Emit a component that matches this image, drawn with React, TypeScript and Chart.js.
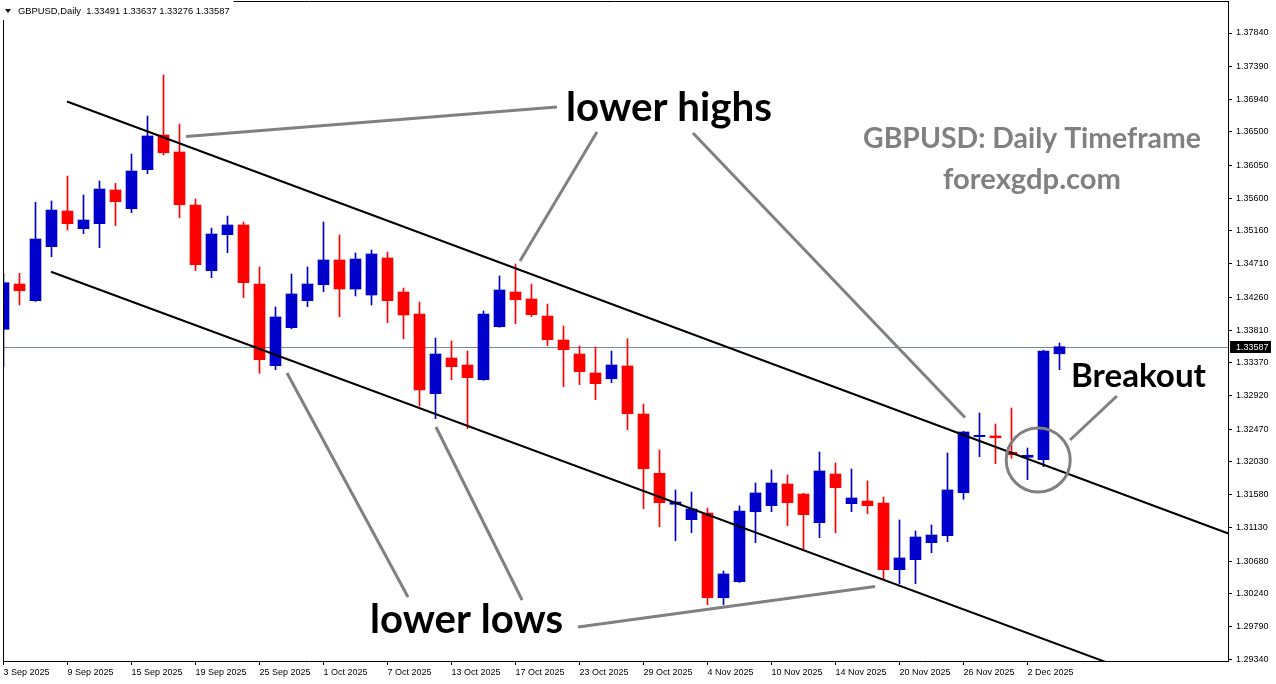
import { useEffect, useRef } from "react";
import { Chart, registerables } from "chart.js";

Chart.register(...registerables);

// ---------- data ----------
const symbol = "GBPUSD";
const timeframe = "Daily";

const sepDays = [3, 4, 5, 8, 9, 10, 11, 12, 15, 16, 17, 18, 19, 22, 23, 24, 25, 26, 29, 30];
const octDays = [1, 2, 3, 6, 7, 8, 9, 10, 13, 14, 15, 16, 17, 20, 21, 22, 23, 24, 27, 28, 29, 30, 31];
const novDays = [3, 4, 5, 6, 7, 10, 11, 12, 13, 14, 17, 18, 19, 20, 21, 24, 25, 26, 27, 28];
const decDays = [1, 2, 3, 4];

const dates: string[] = [
  ...sepDays.map((d) => `${d} Sep 2025`),
  ...octDays.map((d) => `${d} Oct 2025`),
  ...novDays.map((d) => `${d} Nov 2025`),
  ...decDays.map((d) => `${d} Dec 2025`),
];

const opens = [
  1.33823, 1.34437, 1.34211, 1.34943, 1.35427, 1.35187, 1.35255, 1.35712, 1.35458, 1.35987,
  1.36457, 1.36227, 1.35508, 1.34618, 1.35106, 1.35237, 1.34437, 1.33330, 1.33845, 1.34211,
  1.34428, 1.34763, 1.34369, 1.34288, 1.34790, 1.34329, 1.34031, 1.32950, 1.33434, 1.33339,
  1.33140, 1.33858, 1.34329, 1.34234, 1.34003, 1.33678, 1.33488, 1.33231, 1.33153, 1.33326,
  1.32675, 1.31871, 1.31451, 1.31242, 1.31333, 1.30184, 1.30401, 1.31350, 1.31432, 1.31726,
  1.31590, 1.31201, 1.31861, 1.31459, 1.31495, 1.31468, 1.30564, 1.30700, 1.30930, 1.31025,
  1.31608, 1.32367, 1.32377, 1.32156, 1.32088, 1.32055, 1.33491,
];
const highs = [
  1.34582, 1.34582, 1.35545, 1.35562, 1.35901, 1.35644, 1.35834, 1.35802, 1.36200, 1.36715,
  1.37271, 1.36606, 1.35590, 1.35196, 1.35359, 1.35278, 1.34668, 1.34125, 1.34573, 1.34668,
  1.35278, 1.35102, 1.34858, 1.34898, 1.34871, 1.34383, 1.34193, 1.33705, 1.33665, 1.33529,
  1.34071, 1.34546, 1.34708, 1.34437, 1.34166, 1.33868, 1.33597, 1.33583, 1.33529, 1.33696,
  1.32810, 1.32187, 1.31645, 1.31617, 1.31400, 1.30546, 1.31428, 1.31739, 1.31916, 1.31848,
  1.31600, 1.32160, 1.32011, 1.31929, 1.31767, 1.31550, 1.31238, 1.31089, 1.31170, 1.32146,
  1.32440, 1.32688, 1.32539, 1.32756, 1.32214, 1.33540, 1.33637,
];
const lows = [
  1.33316, 1.34153, 1.34200, 1.34807, 1.35169, 1.35119, 1.34929, 1.35228, 1.35404, 1.35933,
  1.36186, 1.35336, 1.34618, 1.34523, 1.34862, 1.34252, 1.33227, 1.33275, 1.33830, 1.34130,
  1.34333, 1.33994, 1.34275, 1.34153, 1.33913, 1.33696, 1.32783, 1.32611, 1.33140, 1.32476,
  1.33130, 1.33850, 1.33899, 1.33994, 1.33601, 1.33045, 1.33072, 1.32869, 1.33099, 1.32462,
  1.31391, 1.31147, 1.30957, 1.31066, 1.30090, 1.30090, 1.30390, 1.30930, 1.31350, 1.31160,
  1.30835, 1.30998, 1.31066, 1.31350, 1.31323, 1.30428, 1.30374, 1.30374, 1.30794, 1.30944,
  1.31518, 1.32096, 1.32001, 1.32074, 1.31784, 1.31960, 1.33276,
];
const closes = [
  1.34455, 1.34346, 1.35047, 1.35440, 1.35255, 1.35305, 1.35725, 1.35553, 1.35969, 1.36444,
  1.36217, 1.35512, 1.34699, 1.35115, 1.35237, 1.34455, 1.33411, 1.33990, 1.34302, 1.34437,
  1.34763, 1.34369, 1.34776, 1.34844, 1.34211, 1.34017, 1.33000, 1.33488, 1.33316, 1.33167,
  1.34031, 1.34356, 1.34224, 1.34021, 1.33682, 1.33547, 1.33248, 1.33086, 1.33339, 1.32679,
  1.31933, 1.31472, 1.31482, 1.31387, 1.30184, 1.30506, 1.31360, 1.31604, 1.31739, 1.31472,
  1.31310, 1.31902, 1.31676, 1.31536, 1.31432, 1.30564, 1.30723, 1.31007, 1.31034, 1.31645,
  1.32431, 1.32386, 1.32353, 1.32123, 1.32115, 1.33529, 1.33587,
];

const xTickLabelEvery = 4;
const yTicks = [
  1.3784, 1.3739, 1.3694, 1.365, 1.3605, 1.356, 1.3516, 1.3471, 1.3426, 1.3381,
  1.3337, 1.3292, 1.3247, 1.3203, 1.3158, 1.3113, 1.3068, 1.3024, 1.2979, 1.2934,
];
const yMin = 1.29326;
const yMax = 1.38274;
const xMin = -0.03125;
const xMax = 76.53125;

// channel lines (bar index, price)
const upperChannel = [
  { x: 3.97, y: 1.36911 },
  { x: 76.6, y: 1.31051 },
];
const lowerChannel = [
  { x: 2.97, y: 1.34604 },
  { x: 70.4, y: 1.29191 },
];

// grey pointer lines (bar index, price)
const pointerLines = [
  [{ x: 11.41, y: 1.36437 }, { x: 34.59, y: 1.36837 }],
  [{ x: 32.28, y: 1.34749 }, { x: 37.09, y: 1.36498 }],
  [{ x: 43.09, y: 1.36484 }, { x: 60.09, y: 1.32627 }],
  [{ x: 17.72, y: 1.33231 }, { x: 25.28, y: 1.30194 }],
  [{ x: 27.03, y: 1.32499 }, { x: 32.41, y: 1.30153 }],
  [{ x: 35.91, y: 1.29787 }, { x: 54.47, y: 1.30336 }],
  [{ x: 66.66, y: 1.32322 }, { x: 69.59, y: 1.32919 }],
];
const breakoutCircle = { x: 64.67, y: 1.32051 };

const annotationTexts = [
  { text: "lower highs", x: 35.16, y: 1.36647, kind: "callout" },
  { text: "lower lows", x: 22.91, y: 1.2971, kind: "callout" },
  { text: "Breakout", x: 66.72, y: 1.33041, kind: "callout" },
  { text: "GBPUSD: Daily Timeframe", x: 53.72, y: 1.36281, kind: "watermark" },
  { text: "forexgdp.com", x: 58.72, y: 1.35725, kind: "watermark" },
];

// ---------- styles ----------
const W = 1276;
const H = 684;
const BLUE = "#0000cc";
const RED = "#ff0000";
const GREY = "#808080";
const PRICE_LINE = "#778899";
const AXIS_FONT = { family: "'Liberation Sans', Arial, sans-serif", size: 9 };
const HEADER_FONT_SIZE = 9.4;
const TEXT_WIDTHS: Record<string, number> = {
  "lower highs": 206,
  "lower lows": 193,
  Breakout: 135,
  "GBPUSD: Daily Timeframe": 338,
  "forexgdp.com": 178,
};

export default function App() {
  const ref = useRef<HTMLCanvasElement | null>(null);

  useEffect(() => {
    const canvas = ref.current;
    if (!canvas) return;
    const n = opens.length;
    const colors = opens.map((o, i) => (closes[i] >= o ? BLUE : RED));
    const lastClose = closes[n - 1];

    const overlay = {
      id: "overlay",
      beforeDraw(chart: any) {
        const c = chart.ctx;
        c.save();
        c.fillStyle = "#ffffff";
        c.fillRect(0, 0, chart.width, chart.height);
        c.restore();
      },
      beforeDatasetsDraw(chart: any) {
        const { ctx, chartArea: a, scales } = chart;
        const py = Math.round(scales.y.getPixelForValue(lastClose)) + 0.5;
        ctx.save();
        ctx.strokeStyle = PRICE_LINE;
        ctx.lineWidth = 1;
        ctx.beginPath();
        ctx.moveTo(a.left, py);
        ctx.lineTo(a.right, py);
        ctx.stroke();
        ctx.restore();
      },
      afterDatasetsDraw(chart: any) {
        const { ctx, chartArea: a, scales } = chart;
        ctx.save();
        ctx.beginPath();
        ctx.rect(a.left, a.top, a.right - a.left, a.bottom - a.top);
        ctx.clip();
        // circle
        const cx = scales.x.getPixelForValue(breakoutCircle.x);
        const cy = scales.y.getPixelForValue(breakoutCircle.y);
        ctx.strokeStyle = GREY;
        ctx.lineWidth = 3;
        ctx.beginPath();
        ctx.arc(cx, cy, 32, 0, Math.PI * 2);
        ctx.stroke();
        // texts
        for (const t of annotationTexts) {
          const target = TEXT_WIDTHS[t.text];
          ctx.font = "700 40px Lato, 'Open Sans', sans-serif";
          const w0 = ctx.measureText(t.text).width;
          const size = (40 * target) / w0;
          ctx.font = `700 ${size.toFixed(2)}px Lato, 'Open Sans', sans-serif`;
          ctx.fillStyle = t.kind === "watermark" ? GREY : "#000000";
          ctx.textAlign = "left";
          ctx.textBaseline = "alphabetic";
          ctx.fillText(t.text, scales.x.getPixelForValue(t.x), scales.y.getPixelForValue(t.y));
        }
        ctx.restore();
      },
      afterDraw(chart: any) {
        const { ctx, chartArea: a, scales } = chart;
        ctx.save();
        // frame (left & top)
        ctx.strokeStyle = "#000000";
        ctx.lineWidth = 1;
        ctx.beginPath();
        ctx.moveTo(a.left + 0.5, a.bottom);
        ctx.lineTo(a.left + 0.5, a.top + 0.5);
        ctx.lineTo(a.right, a.top + 0.5);
        ctx.stroke();
        // header
        const header = `${symbol},${timeframe}  ${opens[n - 1].toFixed(5)} ${highs[n - 1].toFixed(5)} ${lows[n - 1].toFixed(5)} ${closes[n - 1].toFixed(5)}`;
        ctx.font = `${HEADER_FONT_SIZE}px ${AXIS_FONT.family}`;
        const hw = ctx.measureText(header).width;
        ctx.fillStyle = "#ffffff";
        ctx.fillRect(0, 0, 18 + hw + 4, 20);
        ctx.fillStyle = "#000000";
        ctx.beginPath();
        ctx.moveTo(5, 9);
        ctx.lineTo(11, 9);
        ctx.lineTo(8, 13);
        ctx.closePath();
        ctx.fill();
        ctx.textAlign = "left";
        ctx.textBaseline = "middle";
        ctx.fillText(header, 18, 11);
        // current price label
        ctx.font = `${AXIS_FONT.size}px ${AXIS_FONT.family}`;
        const py = Math.round(scales.y.getPixelForValue(lastClose));
        ctx.fillStyle = "#000000";
        ctx.fillRect(a.right + 2, py - 6, 41, 12);
        ctx.fillStyle = "#ffffff";
        ctx.fillText(lastClose.toFixed(5), a.right + 8, py + 0.5);
        ctx.restore();
      },
    };

    const lineDs = (data: any[], color: string, width: number, label: string) => ({
      type: "line" as const,
      label,
      data,
      borderColor: color,
      borderWidth: width,
      pointRadius: 0,
      pointHoverRadius: 0,
      fill: false,
      tension: 0,
      order: 0,
    });

    const zeroPad = (s: any) => {
      s.paddingTop = 0;
      s.paddingBottom = 0;
      s.paddingLeft = 0;
      s.paddingRight = 0;
    };

    const chart = new Chart(canvas, {
      type: "bar",
      data: {
        datasets: [
          lineDs(upperChannel, "#000000", 2, "upper"),
          lineDs(lowerChannel, "#000000", 2, "lower"),
          ...pointerLines.map((p, i) => lineDs(p, GREY, 3, `pointer${i}`)),
          {
            type: "bar" as const,
            label: "bodies",
            data: opens.map((o, i) => ({ x: i, y: [o, closes[i]] })) as any,
            backgroundColor: colors,
            borderWidth: 0,
            barThickness: 11,
            grouped: false,
            minBarLength: 1,
            order: 1,
          },
          {
            type: "bar" as const,
            label: "wicks",
            data: lows.map((l, i) => ({ x: i, y: [l, highs[i]] })) as any,
            backgroundColor: colors,
            borderWidth: 0,
            barThickness: 1,
            grouped: false,
            order: 2,
          },
        ] as any,
      },
      options: {
        responsive: false,
        animation: false,
        devicePixelRatio: 1,
        events: [],
        layout: { autoPadding: false, padding: { left: 3, top: 1, right: 0, bottom: 0 } },
        plugins: { legend: { display: false }, tooltip: { enabled: false } },
        scales: {
          x: {
            type: "linear",
            min: xMin,
            max: xMax,
            offset: false,
            afterFit: (s: any) => {
              s.height = 23;
              zeroPad(s);
            },
            afterBuildTicks: (s: any) => {
              s.ticks = dates
                .map((_, i) => i)
                .filter((i) => i % xTickLabelEvery === 0)
                .map((v) => ({ value: v }));
            },
            ticks: {
              autoSkip: false,
              maxRotation: 0,
              minRotation: 0,
              align: "start",
              padding: 2,
              color: "#000000",
              font: AXIS_FONT,
              callback: (v: any) => dates[Math.round(Number(v))] ?? "",
            },
            grid: {
              drawOnChartArea: false,
              drawTicks: true,
              tickLength: 4,
              color: "#000000",
              offset: false,
            },
            border: { display: true, color: "#000000", width: 1 },
          },
          y: {
            type: "linear",
            position: "right",
            min: yMin,
            max: yMax,
            afterFit: (s: any) => {
              s.width = 48;
              zeroPad(s);
            },
            afterBuildTicks: (s: any) => {
              s.ticks = yTicks.map((v) => ({ value: v }));
            },
            ticks: {
              autoSkip: false,
              padding: 4,
              color: "#000000",
              font: AXIS_FONT,
              callback: (v: any) => Number(v).toFixed(5),
            },
            grid: {
              drawOnChartArea: false,
              drawTicks: true,
              tickLength: 4,
              color: "#000000",
            },
            border: { display: true, color: "#000000", width: 1 },
          },
        },
      } as any,
      plugins: [overlay],
    });

    return () => chart.destroy();
  }, []);

  return (
    <div style={{ position: "fixed", left: 0, top: 0, width: W, height: H, background: "#ffffff" }}>
      <canvas ref={ref} width={W} height={H} style={{ display: "block", width: W, height: H }} />
    </div>
  );
}
